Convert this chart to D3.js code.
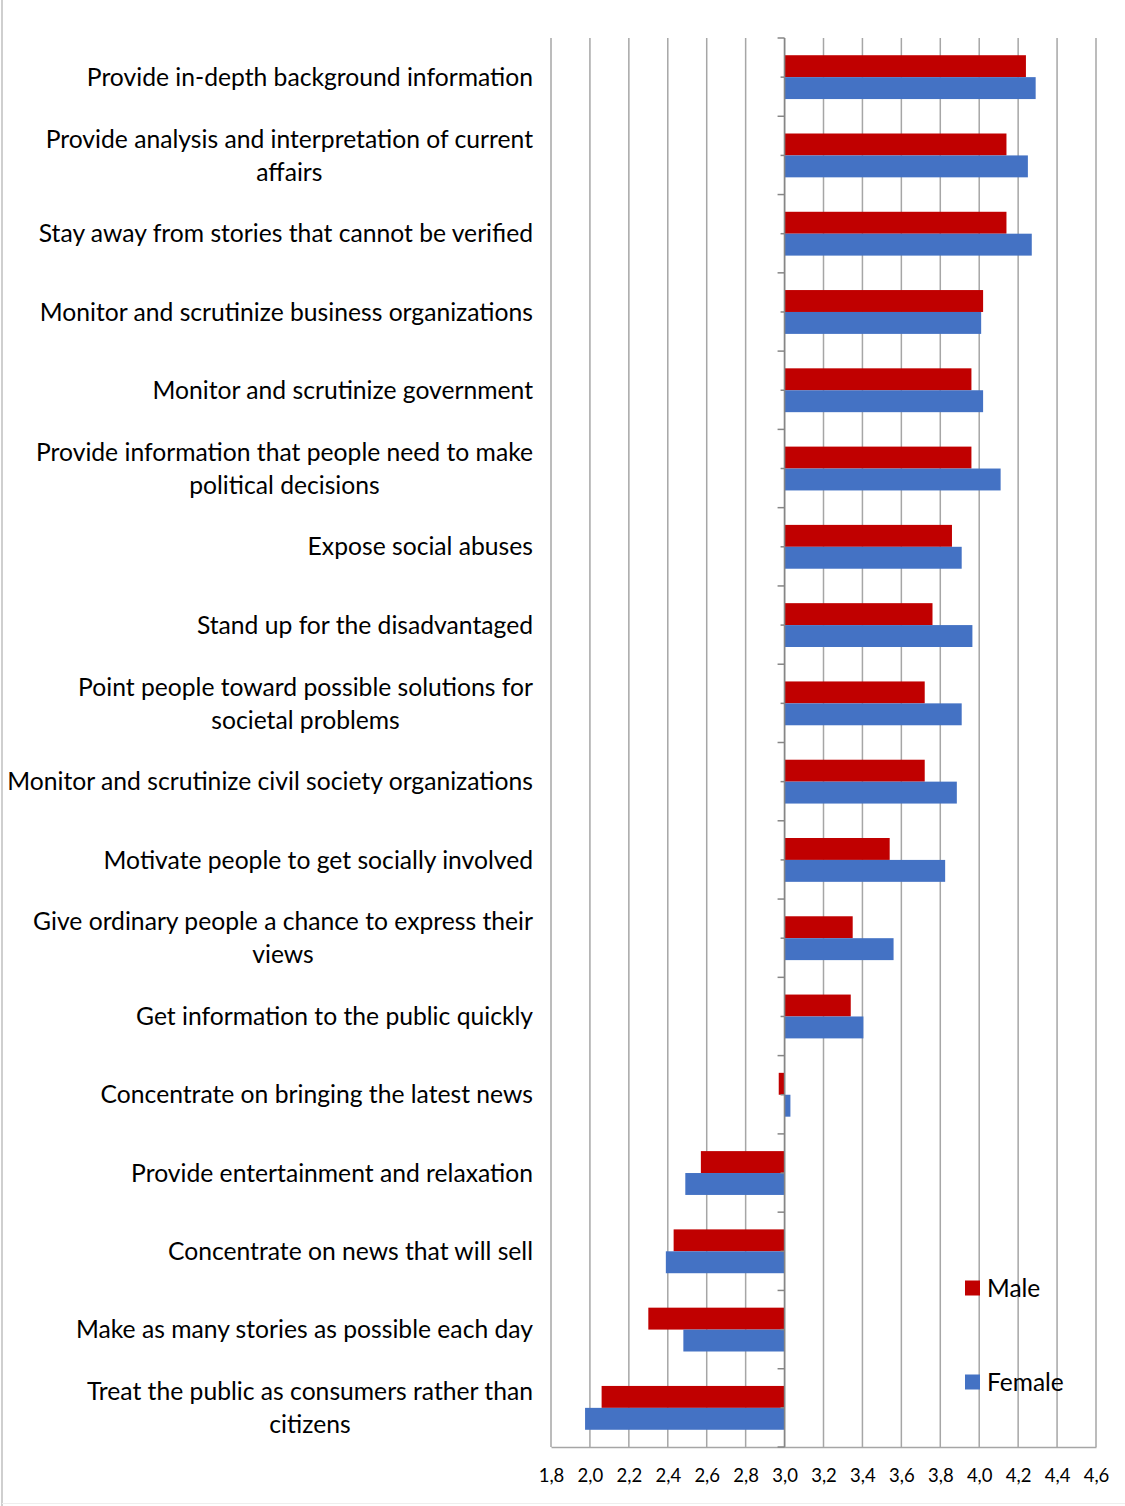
<!DOCTYPE html>
<html><head><meta charset="utf-8">
<script src="https://cdn.jsdelivr.net/npm/d3@7"></script>
<style>body{margin:0;background:#fff}svg{display:block}</style>
</head><body>
<script>
const categories = [
  ["Provide in-depth background information"],
  ["Provide analysis and interpretation of current","affairs"],
  ["Stay away from stories that cannot be verified"],
  ["Monitor and scrutinize business organizations"],
  ["Monitor and scrutinize government"],
  ["Provide information that people need to make","political decisions"],
  ["Expose social abuses"],
  ["Stand up for the disadvantaged"],
  ["Point people toward possible solutions for","societal problems"],
  ["Monitor and scrutinize civil society organizations"],
  ["Motivate people to get socially involved"],
  ["Give ordinary people a chance to express their","views"],
  ["Get information to the public quickly"],
  ["Concentrate on bringing the latest news"],
  ["Provide entertainment and relaxation"],
  ["Concentrate on news that will sell"],
  ["Make as many stories as possible each day"],
  ["Treat the public as consumers rather than","citizens"]
];
const male   = [4.24,4.14,4.14,4.02,3.96,3.96,3.86,3.76,3.72,3.72,3.54,3.35,3.34,2.97,2.57,2.43,2.30,2.06];
const female = [4.29,4.25,4.27,4.01,4.02,4.11,3.91,3.965,3.91,3.885,3.825,3.56,3.405,3.03,2.49,2.39,2.48,1.975];
const xTicks = [1.8,2.0,2.2,2.4,2.6,2.8,3.0,3.2,3.4,3.6,3.8,4.0,4.2,4.4,4.6];
const seriesNames = ["Male","Female"];
const colors = ["#c00000","#4472c4"];
const baseline = 3.0;

const W = 1125, H = 1506;
const svg = d3.select("body").append("svg").attr("width", W).attr("height", H);
const font = "Lato, 'Open Sans', sans-serif";

// frame
svg.append("line").attr("x1",2).attr("x2",2).attr("y1",0).attr("y2",H).attr("stroke","#bfbfbf").attr("stroke-width",1.5);
svg.append("line").attr("x1",2).attr("x2",W).attr("y1",H-2.5).attr("y2",H-2.5).attr("stroke","#eeeeee").attr("stroke-width",1);

const x = d3.scaleLinear().domain([1.8,4.6]).range([551,1096]);
const y = d3.scaleBand().domain(d3.range(categories.length)).range([38,1447]).paddingInner(0.44).paddingOuter(0.22);
const band = d3.scaleBand().domain(d3.range(categories.length)).range([38,1447]);

// gridlines
svg.append("g").selectAll("line").data(xTicks).join("line")
  .attr("x1", d=>x(d)).attr("x2", d=>x(d)).attr("y1",38).attr("y2",1447)
  .attr("stroke","#a6a6a6").attr("stroke-width",1.5);

// bottom axis
const xAxis = svg.append("g").attr("transform","translate(0,1447)")
  .call(d3.axisBottom(x).tickValues(xTicks).tickSize(0).tickFormat(d=>d3.format(".1f")(d).replace(".",",")));
xAxis.select(".domain").attr("stroke","#a6a6a6").attr("stroke-width",1.5);
xAxis.selectAll("text").attr("font-family",font).attr("font-size",18.5).attr("fill","#000").attr("dy","0").attr("y",35);

// bars
const sub = d3.scaleBand().domain([0,1]).range([0,y.bandwidth()]);
[male,female].forEach((vals,si)=>{
  svg.append("g").selectAll("rect").data(vals).join("rect")
    .attr("x", d=>Math.min(x(d),x(baseline)))
    .attr("width", d=>Math.abs(x(d)-x(baseline)))
    .attr("y", (d,i)=>y(i)+sub(si))
    .attr("height", sub.bandwidth())
    .attr("fill", colors[si]);
});

// vertical axis at baseline with ticks
const ax = svg.append("g");
ax.append("line").attr("x1",x(baseline)).attr("x2",x(baseline)).attr("y1",38).attr("y2",1447).attr("stroke","#868686").attr("stroke-width",1.5);
const bounds = d3.range(categories.length+1).map(i=>38 + i*band.step());
ax.selectAll(".maj").data(bounds).join("line").attr("class","maj")
  .attr("x1",x(baseline)-7).attr("x2",x(baseline)).attr("y1",d=>d).attr("y2",d=>d).attr("stroke","#868686").attr("stroke-width",1.5);
ax.selectAll(".min").data(d3.range(categories.length)).join("line").attr("class","min")
  .attr("x1",x(baseline)-4).attr("x2",x(baseline)).attr("y1",i=>band(i)+band.bandwidth()/2).attr("y2",i=>band(i)+band.bandwidth()/2).attr("stroke","#868686").attr("stroke-width",1.5);

// category labels: size chosen so the longest line spans like the reference (x 7..533)
let fs = 22.5;
const probe = svg.append("text").attr("font-family",font).attr("font-size",fs).text("Monitor and scrutinize civil society organizations");
fs = fs * 526 / probe.node().getComputedTextLength();
probe.remove();
const lab = svg.append("g").attr("font-family",font).attr("font-size",fs).attr("fill","#000");
categories.forEach((lines,i)=>{
  const cy = band(i)+band.bandwidth()/2;
  const g = lab.append("g");
  const texts = lines.map((t,k)=>g.append("text").text(t)
      .attr("y", cy + (k-(lines.length-1)/2)*33).attr("dy","0.35em"));
  const maxW = d3.max(texts, t=>t.node().getComputedTextLength());
  texts.forEach(t=>t.attr("x", 533 - maxW/2).attr("text-anchor","middle"));
});

// legend
const legY = [1288, 1382];
seriesNames.forEach((n,i)=>{
  svg.append("rect").attr("x",965).attr("y",legY[i]-7.5).attr("width",15).attr("height",15).attr("fill",colors[i]);
  svg.append("text").attr("x",987).attr("y",legY[i]).attr("dy","0.35em").attr("font-family",font).attr("font-size",24.5).attr("fill","#000").text(n);
});
</script>
</body></html>
